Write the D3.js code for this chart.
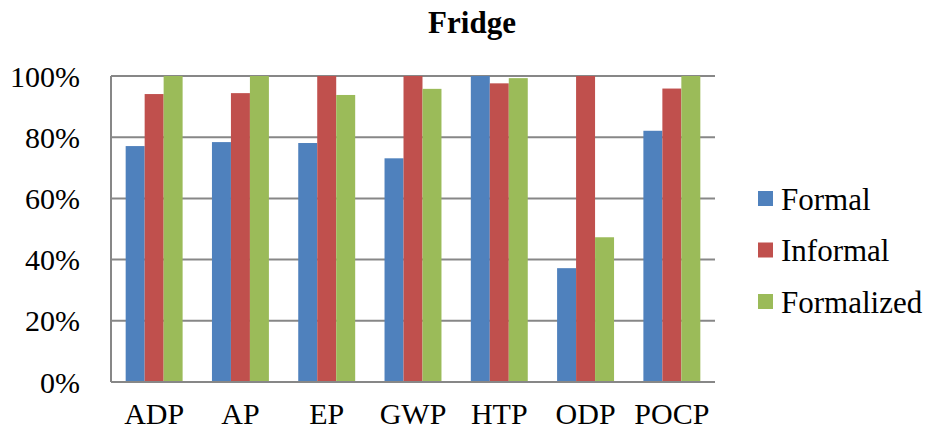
<!DOCTYPE html>
<html>
<head>
<meta charset="utf-8">
<script src="https://cdn.jsdelivr.net/npm/d3@7"></script>
<style>
  body { margin: 0; background: #fff; }
  text { font-family: "Liberation Serif", "Times New Roman", serif; fill: #000; }
</style>
</head>
<body>
<div id="chart"></div>
<script>
// chart values
let categories = ["ADP", "AP", "EP", "GWP", "HTP", "ODP", "POCP"];
let seriesNames = ["Formal", "Informal", "Formalized"];
let formal = [77.1, 78.4, 78.1, 73.1, 100, 37.2, 82.1];
let informal = [94.1, 94.4, 100, 100, 97.6, 100, 95.9];
let formalized = [100, 100, 93.8, 95.8, 99.3, 47.3, 100];
let yTicks = [0, 20, 40, 60, 80, 100];
let colors = ["#4F81BD", "#C0504D", "#9BBB59"];

function drawChart() {
    let W = 929, H = 432;
    let margin = {top: 76, right: 214, bottom: 50, left: 111};
    let width = W - margin.left - margin.right;
    let height = H - margin.top - margin.bottom;

    let svg = d3.select("#chart").append("svg")
        .attr("width", W)
        .attr("height", H);

    svg.append("text")
        .attr("x", 472)
        .attr("y", 33)
        .attr("text-anchor", "middle")
        .style("font-weight", "bold")
        .style("font-size", "31px")
        .text("Fridge");

    let g = svg.append("g")
        .attr("transform", `translate(${margin.left},${margin.top})`);

    let xScale = d3.scaleBand().domain(categories).range([0, width])
        .paddingInner(0.34).paddingOuter(0.17);
    let xSub = d3.scaleBand().domain(seriesNames).range([0, xScale.bandwidth()]);
    let yScale = d3.scaleLinear().domain([0, 100]).range([height, 0]);

    // gridlines
    g.selectAll(".grid")
        .data(yTicks)
        .enter()
        .append("line")
        .attr("x1", 0)
        .attr("x2", width)
        .attr("y1", d => yScale(d))
        .attr("y2", d => yScale(d))
        .attr("stroke", "#878787")
        .attr("stroke-width", 2);

    let data = categories.map((c, i) => ({
        cat: c,
        vals: [formal[i], informal[i], formalized[i]]
    }));

    let groups = g.selectAll(".grp")
        .data(data)
        .enter()
        .append("g")
        .attr("transform", d => `translate(${xScale(d.cat)},0)`);

    groups.selectAll("rect")
        .data(d => d.vals.map((v, j) => ({name: seriesNames[j], v: v, j: j})))
        .enter()
        .append("rect")
        .attr("x", d => xSub(d.name))
        .attr("width", xSub.bandwidth())
        .attr("y", d => yScale(d.v))
        .attr("height", d => height - yScale(d.v))
        .attr("fill", d => colors[d.j]);

    // axis lines
    g.append("line")
        .attr("x1", 0).attr("x2", 0)
        .attr("y1", 0).attr("y2", height)
        .attr("stroke", "#878787").attr("stroke-width", 2);
    g.append("line")
        .attr("x1", 0).attr("x2", width)
        .attr("y1", height).attr("y2", height)
        .attr("stroke", "#878787").attr("stroke-width", 2);

    // y tick labels
    g.selectAll(".ylab")
        .data(yTicks)
        .enter()
        .append("text")
        .attr("x", -31)
        .attr("y", d => yScale(d))
        .attr("dy", "0.35em")
        .attr("text-anchor", "end")
        .style("font-size", "30px")
        .text(d => d + "%");

    // x labels
    g.selectAll(".xlab")
        .data(categories)
        .enter()
        .append("text")
        .attr("x", d => xScale(d) + xScale.bandwidth() / 2)
        .attr("y", height + 42)
        .attr("text-anchor", "middle")
        .style("font-size", "30px")
        .text(d => d);

    // legend
    let legend = svg.append("g")
        .attr("transform", "translate(758,191)");
    let items = legend.selectAll(".legend-item")
        .data(seriesNames)
        .enter()
        .append("g")
        .attr("transform", (d, i) => `translate(0,${i * 51.5})`);
    items.append("rect")
        .attr("width", 15)
        .attr("height", 15)
        .attr("fill", (d, i) => colors[i]);
    items.append("text")
        .attr("x", 23)
        .attr("y", 8)
        .attr("dy", "0.35em")
        .style("font-size", "31px")
        .text(d => d);
}

drawChart();
</script>
</body>
</html>
